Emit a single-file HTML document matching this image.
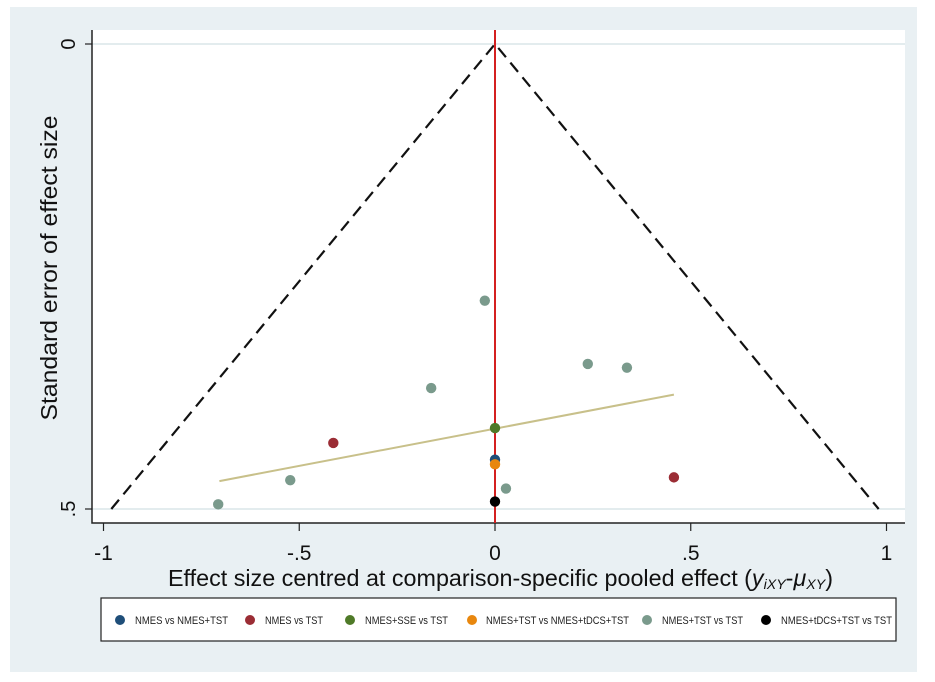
<!DOCTYPE html>
<html><head><meta charset="utf-8"><style>
body{margin:0;background:#fff;font-family:"Liberation Sans",sans-serif}
</style></head><body>
<svg width="935" height="677" xmlns="http://www.w3.org/2000/svg">
<rect x="10" y="7" width="907" height="665" fill="#e9f0f3"/>
<rect x="92" y="30" width="813" height="493" fill="#fff"/>
<g id="g"></g>
<text transform="translate(57,268) rotate(-90)" text-anchor="middle" font-size="23" fill="#111" textLength="305" lengthAdjust="spacingAndGlyphs">Standard error of effect size</text>
<text x="168" y="586" font-size="23" fill="#111" textLength="665" lengthAdjust="spacingAndGlyphs">Effect size centred at comparison-specific pooled effect (<tspan font-style="italic">y</tspan><tspan font-style="italic" font-size="14" dy="3">iXY</tspan><tspan dy="-3">-</tspan><tspan font-style="italic">μ</tspan><tspan font-style="italic" font-size="14" dy="3">XY</tspan><tspan dy="-3">)</tspan></text>
<rect x="101" y="598" width="795" height="43" fill="#fff" stroke="#222" stroke-width="1.2"/>
<g id="leg"></g>
</svg>
<script>
const groups=["NMES vs NMES+TST","NMES vs TST","NMES+SSE vs TST","NMES+TST vs NMES+tDCS+TST","NMES+TST vs TST","NMES+tDCS+TST vs TST"];
const colors=["#1f4e79","#9b2d35","#4f7a28","#e8870e","#7a9a8c","#000"];
const ptEffect=[0,-0.413,0.457,0,0,-0.026,0.237,0.337,-0.163,-0.523,-0.707,0.028,0];
const ptSE=[0.447,0.429,0.466,0.413,0.452,0.276,0.344,0.348,0.370,0.469,0.495,0.478,0.492];
const ptGroup=[0,1,1,2,3,4,4,4,4,4,4,4,5];
const fitX=[-0.704,0.457];
const fitY=[0.470,0.377];
const xTicks=[-1,-0.5,0,0.5,1];
const xTickLabels=["-1","-.5","0",".5","1"];
const yTicks=[0,0.5];
const yTickLabels=["0",".5"];
const X=v=>495+v*391.5, Y=v=>44+v*930;
const NS="http://www.w3.org/2000/svg";
const g=document.getElementById('g');
function mk(t,a,p){const e=document.createElementNS(NS,t);for(const k in a)e.setAttribute(k,a[k]);(p||g).appendChild(e);return e;}
yTicks.forEach((t,i)=>{
 const gl=mk('line',{x1:92,x2:905,y1:Y(t),y2:Y(t),stroke:'#e3ecee','stroke-width':2});
 
 
 const tk=mk('line',{x1:85,x2:92,y1:Y(t),y2:Y(t),stroke:'#222','stroke-width':1.2});
 
 
 const tx=mk('text',{transform:`translate(75,${Y(t)}) rotate(-90)`,'text-anchor':'middle','font-size':20,fill:'#111'});
 tx.textContent=yTickLabels[i];
 
 
});
const ax=mk('path',{d:'M92 30V523H905',fill:'none',stroke:'#222','stroke-width':1.5});


xTicks.forEach((t,i)=>{
 const tk=mk('line',{x1:X(t),x2:X(t),y1:523,y2:531,stroke:'#222','stroke-width':1.2});
 
 
 const tx=mk('text',{x:X(t),y:560,'text-anchor':'middle','font-size':21,fill:'#111'});
 tx.textContent=xTickLabels[i];
 
 
});
const fun=mk('path',{d:`M${X(-1.96*0.5)} ${Y(0.5)}L${X(0)} ${Y(0)}L${X(1.96*0.5)} ${Y(0.5)}`,fill:'none',stroke:'#111','stroke-width':2.2,'stroke-dasharray':'12 7'});


const fit=mk('line',{x1:X(fitX[0]),y1:Y(fitY[0]),x2:X(fitX[1]),y2:Y(fitY[1]),stroke:'#c8c08a','stroke-width':2});


const rl=mk('line',{x1:X(0),x2:X(0),y1:30,y2:523,stroke:'#d42020','stroke-width':2});


ptEffect.forEach((v,i)=>{
 const c=mk('circle',{cx:X(v),cy:Y(ptSE[i]),r:5.2,fill:colors[ptGroup[i]]});
 
 
});
const leg=document.getElementById('leg');
const lx=[120,250,350,472,647,766];
const tx0=[135,265,365,486,662,781];
const lw=[93,58,83,143,81,111];
groups.forEach((n,i)=>{
 const c=mk('circle',{cx:lx[i],cy:620,r:5,fill:colors[i]},leg);
 
 
 const t=mk('text',{x:tx0[i],y:624,'font-size':11,fill:'#222',textLength:lw[i],lengthAdjust:'spacingAndGlyphs'},leg);
 t.textContent=n;
 
 
});
</script>
</body></html>
